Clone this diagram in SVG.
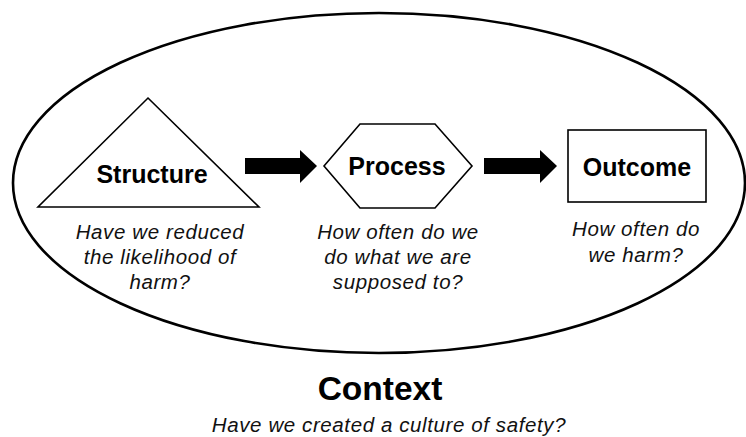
<svg xmlns="http://www.w3.org/2000/svg" width="746" height="437" viewBox="0 0 746 437">
  <style>
    .shape { fill: #fff; stroke: #000; stroke-width: 1.6; }
    .title { font-family: "Liberation Sans", Arial, sans-serif; font-weight: bold; font-size: 25px; text-anchor: middle; fill: #000; }
    .q { font-family: "Liberation Sans", Arial, sans-serif; font-style: italic; font-size: 20.5px; letter-spacing: 0.6px; text-anchor: middle; fill: #111; }
    .arrow { fill: #000; }
  </style>
  <rect width="746" height="437" fill="#fff"/>

  <!-- context boundary -->
  <g id="context">
    <ellipse cx="379" cy="183" rx="366" ry="170" fill="none" stroke="#000" stroke-width="2.6"/>
    <text x="380" y="400" class="title" style="font-size:33.5px">Context</text>
    <text x="389" y="432" class="q">Have we created a culture of safety?</text>
  </g>

  <g id="structure">
    <polygon class="shape" points="148,98 259,207 38,207"/>
    <text x="152" y="183" class="title">Structure</text>
    <text class="q"><tspan x="160" y="239">Have we reduced</tspan><tspan x="160" y="264">the likelihood of</tspan><tspan x="160" y="289">harm?</tspan></text>
  </g>

  <g id="process">
    <polygon class="shape" points="324,166 360,124 435,124 472,166 435,208 360,208"/>
    <text x="397" y="175" class="title">Process</text>
    <text class="q"><tspan x="398" y="239">How often do we</tspan><tspan x="398" y="264">do what we are</tspan><tspan x="398" y="289">supposed to?</tspan></text>
  </g>

  <g id="outcome">
    <rect class="shape" x="568" y="130" width="138" height="72"/>
    <text x="637" y="176" class="title">Outcome</text>
    <text class="q"><tspan x="636" y="236">How often do</tspan><tspan x="636" y="262">we harm?</tspan></text>
  </g>

  <!-- connectors -->
  <g id="connectors">
    <polygon class="arrow" points="245,158 300,158 300,150 317,166 300,183 300,174 245,174"/>
    <polygon class="arrow" points="484,158 540,158 540,150 557,166 540,183 540,174 484,174"/>
  </g>
</svg>
